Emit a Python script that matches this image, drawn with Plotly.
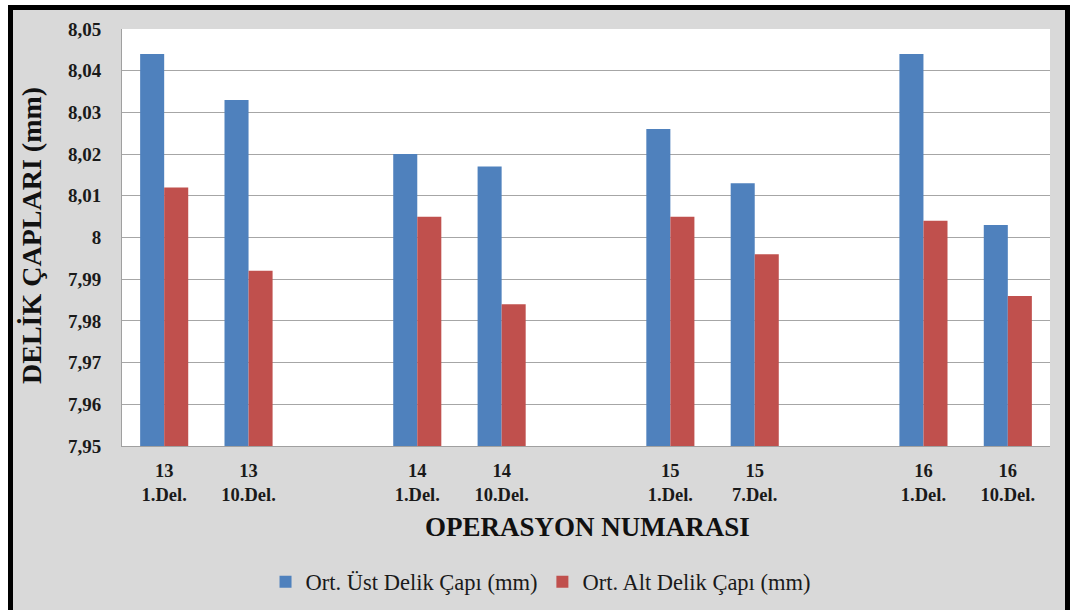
import plotly.graph_objects as go

# Data
slot_positions = [0, 1, 3, 4, 6, 7, 9, 10]
tick_labels = ["13<br>1.Del.", "13<br>10.Del.", "14<br>1.Del.", "14<br>10.Del.",
               "15<br>1.Del.", "15<br>7.Del.", "16<br>1.Del.", "16<br>10.Del."]
ust_capi = [8.044, 8.033, 8.020, 8.017, 8.026, 8.013, 8.044, 8.003]
alt_capi = [8.012, 7.992, 8.005, 7.984, 8.005, 7.996, 8.004, 7.986]
y_ticks = [7.95, 7.96, 7.97, 7.98, 7.99, 8.00, 8.01, 8.02, 8.03, 8.04, 8.05]
y_tick_text = ["7,95", "7,96", "7,97", "7,98", "7,99", "8", "8,01", "8,02", "8,03", "8,04", "8,05"]

W, H = 1070, 610
L, R, T, B = 122, 20, 29, 164
PW, PH = W - L - R, H - T - B


def px(x):
    return (x - L) / PW


def py(y):
    return (H - B - y) / PH


serif = "Liberation Serif, Times New Roman, serif"

fig = go.Figure()
fig.add_trace(go.Bar(x=slot_positions, y=ust_capi, name="Ort. Üst Delik Çapı (mm)",
                     marker=dict(color="#4f81bd", line=dict(width=0))))
fig.add_trace(go.Bar(x=slot_positions, y=alt_capi, name="Ort. Alt Delik Çapı (mm)",
                     marker=dict(color="#c0504d", line=dict(width=0))))

shapes = [
    dict(type="rect", xref="paper", yref="paper", x0=px(0), x1=px(W), y0=py(0), y1=py(5),
         fillcolor="white", line=dict(width=0), layer="below"),
    dict(type="rect", xref="paper", yref="paper", x0=px(0), x1=px(8), y0=py(0), y1=py(H),
         fillcolor="white", line=dict(width=0), layer="below"),
    dict(type="rect", xref="paper", yref="paper", x0=px(8), x1=px(W), y0=py(5), y1=py(10),
         fillcolor="black", line=dict(width=0), layer="below"),
    dict(type="rect", xref="paper", yref="paper", x0=px(8), x1=px(13), y0=py(5), y1=py(H),
         fillcolor="black", line=dict(width=0), layer="below"),
    dict(type="rect", xref="paper", yref="paper", x0=px(1065), x1=px(W), y0=py(5), y1=py(H),
         fillcolor="black", line=dict(width=0), layer="below"),
]

fig.update_layout(
    width=W, height=H,
    margin=dict(l=L, r=R, t=T, b=B, autoexpand=False),
    paper_bgcolor="#d9d9d9",
    plot_bgcolor="white",
    barmode="group",
    bargap=0.43,
    bargroupgap=0,
    shapes=shapes,
    showlegend=True,
    legend=dict(orientation="h", x=0.451, xanchor="center", y=py(582), yanchor="middle",
                bgcolor="rgba(0,0,0,0)", font=dict(family=serif, size=22.5, color="#1a1a1a"),
                itemwidth=30, traceorder="normal"),
    xaxis=dict(range=[-0.5, 10.5], tickmode="array", tickvals=slot_positions, ticktext=tick_labels,
               showgrid=False, showline=True, linecolor="#a0a0a0", linewidth=1, ticks="",
               tickfont=dict(family=serif, size=18.5, color="#1a1a1a", weight="bold"),
               ticklabelstandoff=8, zeroline=False, fixedrange=True, automargin=False),
    yaxis=dict(range=[7.95, 8.05], tickmode="array", tickvals=y_ticks, ticktext=y_tick_text,
               showgrid=True, gridcolor="#a6a6a6", gridwidth=1, showline=True, linecolor="#a0a0a0",
               linewidth=1, ticks="", zeroline=False,
               tickfont=dict(family=serif, size=19, color="#1a1a1a", weight="bold"),
               ticklabelstandoff=16, fixedrange=True, automargin=False),
    annotations=[
        dict(text="DELİK ÇAPLARI (mm)", xref="paper", yref="paper", x=px(31), y=py(236),
             xanchor="center", yanchor="middle", textangle=-90, showarrow=False,
             font=dict(family=serif, size=28, color="#111111", weight="bold")),
        dict(text="OPERASYON NUMARASI", xref="paper", yref="paper", x=px(587), y=py(527),
             xanchor="center", yanchor="middle", showarrow=False,
             font=dict(family=serif, size=27, color="#111111", weight="bold")),
    ],
)

fig.write_html("out.html", config={"displayModeBar": False},
               post_script="document.body.style.margin='0';document.body.style.overflow='hidden';")
